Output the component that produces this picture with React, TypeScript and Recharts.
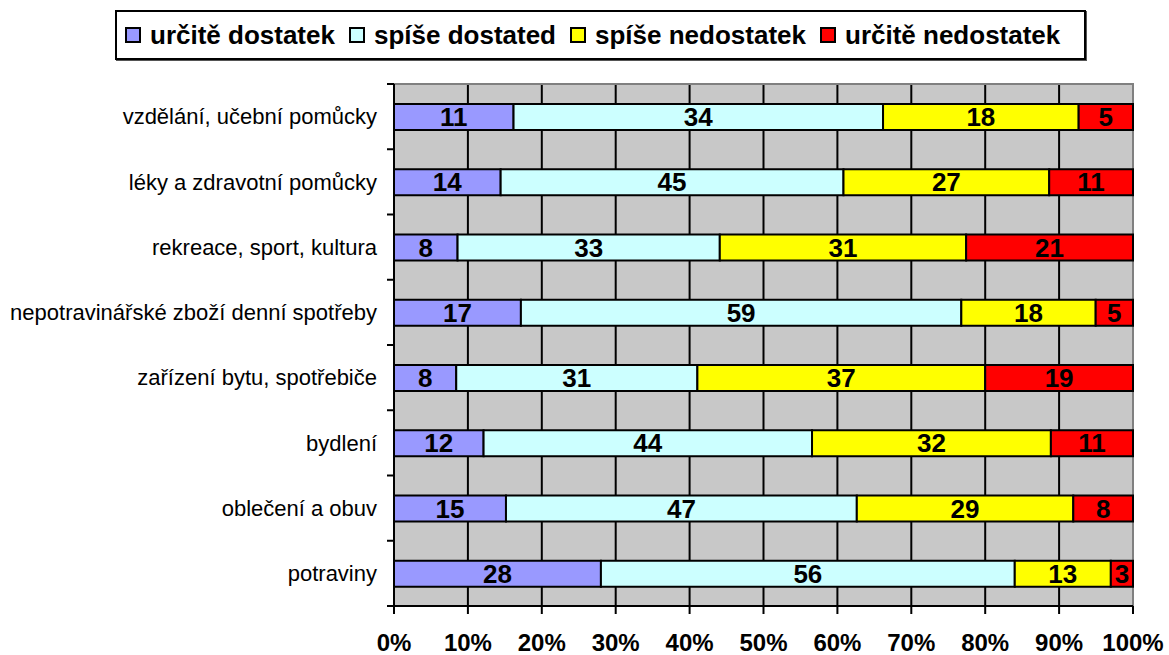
import React from 'react';
import {
  BarChart,
  Bar,
  XAxis,
  YAxis,
  CartesianGrid,
  Legend,
  LabelList,
  ReferenceArea,
} from 'recharts';

const categories = [
  'vzdělání, učební pomůcky',
  'léky a zdravotní pomůcky',
  'rekreace, sport, kultura',
  'nepotravinářské zboží denní spotřeby',
  'zařízení bytu, spotřebiče',
  'bydlení',
  'oblečení a obuv',
  'potraviny',
];

const seriesNames = ['určitě dostatek', 'spíše dostated', 'spíše nedostatek', 'určitě nedostatek'];
const seriesKeys = ['s1', 's2', 's3', 's4'];
const COLORS = ['#9999FF', '#CCFFFF', '#FFFF00', '#FF0000'];

const urciteDostatek = [11, 14, 8, 17, 8, 12, 15, 28];
const spiseDostatek = [34, 45, 33, 59, 31, 44, 47, 56];
const spiseNedostatek = [18, 27, 31, 18, 37, 32, 29, 13];
const urciteNedostatek = [5, 11, 21, 5, 19, 11, 8, 3];

const xTicks = [0, 0.1, 0.2, 0.3, 0.4, 0.5, 0.6, 0.7, 0.8, 0.9, 1];

const data = categories.map((name, i) => ({
  name,
  s1: urciteDostatek[i],
  s2: spiseDostatek[i],
  s3: spiseNedostatek[i],
  s4: urciteNedostatek[i],
}));

const FONT = '"Liberation Sans", Arial, sans-serif';
const TOP = 84;
const PLOT_H = 522;
const AXIS_X = 394;

const LegendBox = () => (
  <div
    style={{
      width: 959,
      height: 46,
      border: '2px solid #000',
      boxShadow: '1px 1px 0 #555',
      background: '#fff',
      display: 'flex',
      alignItems: 'center',
      paddingLeft: 8,
      fontFamily: FONT,
      fontWeight: 'bold',
      fontSize: 26,
      color: '#000',
      boxSizing: 'content-box',
    }}
  >
    {seriesNames.map((n, i) => (
      <div key={n} style={{ display: 'flex', alignItems: 'center', marginRight: 14 }}>
        <span
          style={{
            display: 'inline-block',
            width: 12,
            height: 12,
            background: COLORS[i],
            border: '2px solid #000',
            marginRight: 9,
          }}
        />
        <span>{n}</span>
      </div>
    ))}
  </div>
);

// category label at band centre, tick marks at band boundaries (Excel style)
const YTick = (props: any) => {
  const { x, y, payload, index } = props;
  const half = PLOT_H / categories.length / 2;
  return (
    <g>
      <line x1={AXIS_X - 7} x2={AXIS_X} y1={y - half} y2={y - half} stroke="#000" strokeWidth={2} />
      {index === categories.length - 1 && (
        <line x1={AXIS_X - 7} x2={AXIS_X} y1={y + half} y2={y + half} stroke="#000" strokeWidth={2} />
      )}
      <text x={x} y={y} dy="0.355em" textAnchor="end" fill="#000" fontSize={22} fontFamily={FONT}>
        {payload.value}
      </text>
    </g>
  );
};

const App: React.FC = () => {
  return (
    <div style={{ position: 'absolute', left: 0, top: 0, fontFamily: FONT }}>
      <BarChart
        width={1169}
        height={655}
        data={data}
        layout="vertical"
        stackOffset="expand"
        barSize={26}
        margin={{ top: TOP, right: 36, bottom: 0, left: 0 }}
      >
        <CartesianGrid
          horizontal={false}
          stroke="#000"
          strokeWidth={2}
          fill="#C8C8C8"
          fillOpacity={1}
          verticalCoordinatesGenerator={({ offset }: any) =>
            xTicks.slice(1, -1).map(t => offset.left + t * offset.width)
          }
        />
        <ReferenceArea x1={0} x2={1} fill="none" stroke="#808080" strokeWidth={2} ifOverflow="visible" />
        <XAxis
          type="number"
          domain={[0, 1]}
          ticks={xTicks}
          tickFormatter={(v: number) => `${Math.round(v * 100)}%`}
          height={49}
          tickSize={8}
          tickMargin={20}
          axisLine={{ stroke: '#000', strokeWidth: 2 }}
          tickLine={{ stroke: '#000', strokeWidth: 2 }}
          tick={{ fill: '#000', fontSize: 24, fontWeight: 'bold', fontFamily: FONT }}
          interval={0}
        />
        <YAxis
          type="category"
          dataKey="name"
          width={AXIS_X}
          tickSize={7}
          tickMargin={10}
          axisLine={{ stroke: '#000', strokeWidth: 2 }}
          tickLine={false}
          tick={<YTick />}
          interval={0}
        />
        <Legend
          layout="horizontal"
          verticalAlign="middle"
          content={() => <LegendBox />}
          wrapperStyle={{ top: 10, left: 115, width: 963 }}
        />
        {seriesKeys.map((k, i) => (
          <Bar
            key={k}
            dataKey={k}
            name={seriesNames[i]}
            stackId="a"
            fill={COLORS[i]}
            stroke="#000"
            strokeWidth={2}
            isAnimationActive={false}
          >
            <LabelList
              dataKey={k}
              position="center"
              fill="#000"
              fontSize={26}
              fontWeight="bold"
              fontFamily={FONT}
            />
          </Bar>
        ))}
      </BarChart>
    </div>
  );
};

export default App;
